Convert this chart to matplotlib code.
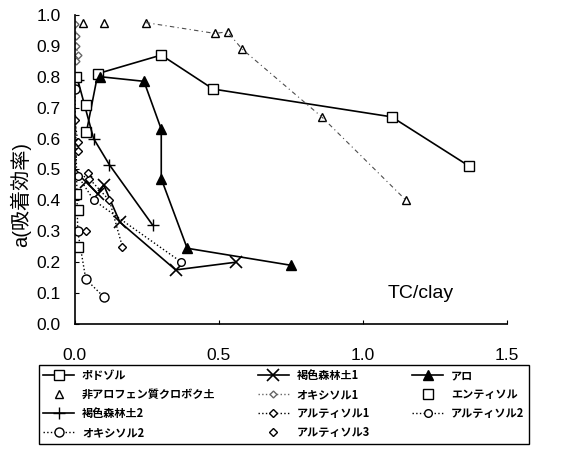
import matplotlib
matplotlib.use('Agg')
import matplotlib.pyplot as plt

plt.rcParams['font.family'] = ['Liberation Sans', 'Noto Sans CJK JP', 'DejaVu Sans']

# TC/clay vs adsorption efficiency, one pair of arrays per soil group
podzol_x = [0.04, 0.08, 0.30, 0.48, 1.10, 1.37]
podzol_y = [0.62, 0.81, 0.87, 0.76, 0.67, 0.51]

brown1_x = [0.04, 0.08, 0.10, 0.156, 0.35, 0.56]
brown1_y = [0.46, 0.42, 0.45, 0.33, 0.175, 0.20]

allo_x = [0.087, 0.24, 0.30, 0.30, 0.39, 0.75]
allo_y = [0.80, 0.785, 0.63, 0.47, 0.245, 0.19]

nonallo_x = [0.027, 0.10, 0.246, 0.486, 0.53, 0.58, 0.857, 1.15]
nonallo_y = [0.975, 0.975, 0.975, 0.94, 0.945, 0.89, 0.67, 0.40]

oxi1_x = [0.0, 0.005, 0.005, 0.01, 0.005]
oxi1_y = [0.97, 0.93, 0.90, 0.87, 0.85]

enti_x = [0.005, 0.04, 0.003, 0.01, 0.01]
enti_y = [0.80, 0.71, 0.42, 0.37, 0.25]

brown2_x = [0.01, 0.065, 0.12, 0.27]
brown2_y = [0.79, 0.60, 0.515, 0.32]

ulti1_x = [0.0, 0.01, 0.0, 0.05, 0.12, 0.165]
ulti1_y = [0.66, 0.59, 0.49, 0.47, 0.40, 0.25]

ulti2_x = [0.01, 0.066, 0.37]
ulti2_y = [0.48, 0.40, 0.20]

oxi2_x = [0.0, 0.01, 0.038, 0.10]
oxi2_y = [0.76, 0.30, 0.145, 0.088]

ulti3_x = [0.01, 0.045, 0.04]
ulti3_y = [0.56, 0.49, 0.30]

fig = plt.figure(figsize=(5.67, 4.5), dpi=100)
ax = fig.add_axes([0.132, 0.28, 0.762, 0.687])

mfc = 'white'
h_pod, = ax.plot(podzol_x, podzol_y, 's-', c='k', lw=1.2, ms=6.5, mfc=mfc, label='ポドゾル')
h_nal, = ax.plot(nonallo_x, nonallo_y, '^', c='k', ms=6, mfc=mfc, ls='none', label='非アロフェン質クロボク土')
ax.plot(nonallo_x[2:], nonallo_y[2:], ls=(0, (4, 3, 1, 3)), c='0.3', lw=0.8)
h_br2, = ax.plot(brown2_x, brown2_y, '+-', c='k', lw=1.2, ms=8, label='褐色森林土2')
h_ox2, = ax.plot(oxi2_x, oxi2_y, 'o:', c='k', lw=1.0, ms=6.5, mfc=mfc, label='オキシソル2')
h_br1, = ax.plot(brown1_x, brown1_y, 'x-', c='k', lw=1.2, ms=8, mew=1.2, label='褐色森林土1')
h_ox1, = ax.plot(oxi1_x, oxi1_y, 'D:', c='0.4', lw=1.0, ms=3.5, mfc=mfc, label='オキシソル1')
h_ul1, = ax.plot(ulti1_x, ulti1_y, 'D:', c='k', lw=1.0, ms=4.5, mfc=mfc, label='アルティソル1')
h_ul3, = ax.plot(ulti3_x, ulti3_y, 'D', c='k', ms=4.5, mfc=mfc, ls='none', label='アルティソル3')
h_allo, = ax.plot(allo_x, allo_y, '^-', c='k', lw=1.2, ms=6.5, label='アロ')
h_ent, = ax.plot(enti_x, enti_y, 's', c='k', ms=6.5, mfc=mfc, ls='none', label='エンティソル')
h_ul2, = ax.plot(ulti2_x, ulti2_y, 'o:', c='k', lw=1.0, ms=5.5, mfc=mfc, label='アルティソル2')

ax.set_xlim(0, 1.5)
ax.set_ylim(0, 1.0)
ax.set_xticks([0.0, 0.5, 1.0, 1.5])
ax.set_yticks([i / 10 for i in range(11)])
ax.set_xticklabels(['0.0', '0.5', '1.0', '1.5'])
ax.set_yticklabels(['%.1f' % (i / 10) for i in range(11)])
ax.tick_params(axis='x', direction='in', length=3, pad=17, labelsize=12.5)
ax.tick_params(axis='y', direction='in', length=3, pad=10, labelsize=12.5)
for s in ['top', 'right']:
    ax.spines[s].set_visible(False)
for s in ['left', 'bottom']:
    ax.spines[s].set_linewidth(1.2)

ax.set_ylabel('a(吸着効率)', fontsize=14.5)
ax.yaxis.set_label_coords(-0.102, 0.42)
ax.text(1.2, 0.07, 'TC/clay', fontsize=14, ha='center', va='bottom')

handles = [h_pod, h_nal, h_br2, h_ox2,
           h_br1, h_ox1, h_ul1, h_ul3,
           h_allo, h_ent, h_ul2]
leg = fig.legend(handles=handles, loc='upper left', bbox_to_anchor=(0.068, 0.19),
                 ncol=3, fancybox=False, edgecolor='k', framealpha=1,
                 prop={'family': ['Noto Sans CJK JP'], 'weight': 'bold', 'size': 8},
                 handlelength=2.8, columnspacing=3.8, labelspacing=0.55,
                 borderpad=0.4, handletextpad=0.7, borderaxespad=0)
leg.get_frame().set_linewidth(1.0)

fig.savefig('out.png', dpi=100)
